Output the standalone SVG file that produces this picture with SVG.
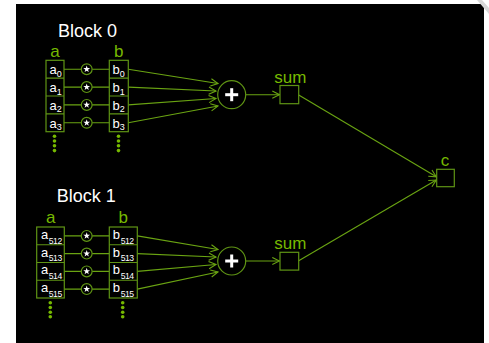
<svg xmlns="http://www.w3.org/2000/svg" width="489" height="343" viewBox="0 0 489 343">
  <defs>
    <style>
      .title { font-family: "Liberation Sans", Arial, sans-serif; font-size: 18px; fill: #ffffff; text-anchor: middle; }
      .lbl { font-family: "Liberation Sans", Arial, sans-serif; font-size: 17px; fill: #76b900; text-anchor: middle; }
      .cell { font-family: "Liberation Sans", Arial, sans-serif; font-size: 13px; fill: #ffffff; }
      .sub { font-size: 9px; }
      .sub3 { font-size: 8.6px; letter-spacing: -0.5px; }
      .box { fill: none; stroke: #5f9414; stroke-width: 1.2; }
      .op { fill: #000000; stroke: #5f9414; stroke-width: 1.2; }
      .wire { fill: none; stroke: #6aa412; stroke-width: 1.1; }
      .dot { fill: #76b900; }
      .glyph { fill: #ffffff; }
    </style>
    <marker id="arr" viewBox="0 0 10 10" refX="9" refY="5" markerWidth="9" markerHeight="9" markerUnits="userSpaceOnUse" orient="auto">
      <path d="M1,1 L9,5 L1,9" fill="none" stroke="#6aa412" stroke-width="1.2"/>
    </marker>
    <!-- multiply operator: small ring with a white star -->
    <g id="mul">
      <circle r="5.4" class="op"/>
      <polygon class="glyph" points="0,-3.6 0.85,-1.15 3.4,-1.1 1.35,0.45 2.1,2.9 0,1.45 -2.1,2.9 -1.35,0.45 -3.4,-1.1 -0.85,-1.15"/>
    </g>
    <!-- add operator: ring with a white plus -->
    <g id="add">
      <circle r="14" class="op"/>
      <rect x="-6.5" y="-1.5" width="13" height="3" class="glyph"/>
      <rect x="-1.5" y="-6.5" width="3" height="13" class="glyph"/>
    </g>
  </defs>

  <rect x="0" y="0" width="489" height="343" fill="#ffffff"/>
  <rect x="16" y="4" width="468" height="339" fill="#000000"/>
  <polygon points="477,0 482,0 489,8 489,14" fill="#d8d8d8"/>

  <!-- connectors -->
  <g id="connectors">
    <!-- block 0: a -> * -> b -->
    <path class="wire" d="M64,69.2 H81.3 M92.1,69.2 H109.3 M64,87.1 H81.3 M92.1,87.1 H109.3 M64,104.9 H81.3 M92.1,104.9 H109.3 M64,122.8 H81.3 M92.1,122.8 H109.3"/>
    <!-- block 0: products -> + -->
    <line class="wire" x1="128.3" y1="69.2" x2="218" y2="83.5" marker-end="url(#arr)"/>
    <line class="wire" x1="128.3" y1="87.1" x2="216" y2="91" marker-end="url(#arr)"/>
    <line class="wire" x1="128.3" y1="104.9" x2="216" y2="98.5" marker-end="url(#arr)"/>
    <line class="wire" x1="128.3" y1="122.8" x2="218" y2="106" marker-end="url(#arr)"/>
    <line class="wire" x1="245.7" y1="94.7" x2="279.5" y2="94.7" marker-end="url(#arr)"/>

    <!-- block 1: a -> * -> b -->
    <path class="wire" d="M64.3,235.9 H81.3 M92.1,235.9 H109.3 M64.3,253.6 H81.3 M92.1,253.6 H109.3 M64.3,271.4 H81.3 M92.1,271.4 H109.3 M64.3,289.1 H81.3 M92.1,289.1 H109.3"/>
    <!-- block 1: products -> + -->
    <line class="wire" x1="137.3" y1="235.9" x2="218" y2="249.5" marker-end="url(#arr)"/>
    <line class="wire" x1="137.3" y1="253.6" x2="216" y2="257" marker-end="url(#arr)"/>
    <line class="wire" x1="137.3" y1="271.4" x2="216" y2="264.5" marker-end="url(#arr)"/>
    <line class="wire" x1="137.3" y1="289.1" x2="218" y2="272" marker-end="url(#arr)"/>
    <line class="wire" x1="245.7" y1="261" x2="279.5" y2="261" marker-end="url(#arr)"/>

    <!-- partial sums -> c -->
    <line class="wire" x1="298.7" y1="95" x2="436.3" y2="176.8" marker-end="url(#arr)"/>
    <line class="wire" x1="298.7" y1="260.7" x2="436.3" y2="180" marker-end="url(#arr)"/>
  </g>

  <!-- block 0 -->
  <g id="block0-title"><text class="title" x="87.5" y="37.3">Block 0</text></g>
  <g id="block0-a">
    <text class="lbl" x="55" y="56.7">a</text>
    <rect class="box" x="46" y="60.3" width="18" height="71.4"/>
    <path class="box" d="M46,78.15 H64 M46,96 H64 M46,113.85 H64"/>
    <text class="cell" x="49.6" y="74.3">a<tspan class="sub" dy="2.4">0</tspan></text>
    <text class="cell" x="49.6" y="92.2">a<tspan class="sub" dy="2.4">1</tspan></text>
    <text class="cell" x="49.6" y="110">a<tspan class="sub" dy="2.4">2</tspan></text>
    <text class="cell" x="49.6" y="127.9">a<tspan class="sub" dy="2.4">3</tspan></text>
    <circle class="dot" cx="54.5" cy="136.2" r="1.8"/>
    <circle class="dot" cx="54.5" cy="141" r="1.8"/>
    <circle class="dot" cx="54.5" cy="145.8" r="1.8"/>
    <circle class="dot" cx="54.5" cy="150.6" r="1.8"/>
  </g>
  <g id="block0-mul">
    <use href="#mul" x="86.7" y="69.2"/>
    <use href="#mul" x="86.7" y="87.1"/>
    <use href="#mul" x="86.7" y="104.9"/>
    <use href="#mul" x="86.7" y="122.8"/>
  </g>
  <g id="block0-b">
    <text class="lbl" x="118.8" y="56.7">b</text>
    <rect class="box" x="109.3" y="60.3" width="19" height="71.4"/>
    <path class="box" d="M109.3,78.15 H128.3 M109.3,96 H128.3 M109.3,113.85 H128.3"/>
    <text class="cell" x="112.5" y="74.3">b<tspan class="sub" dy="2.4">0</tspan></text>
    <text class="cell" x="112.5" y="92.2">b<tspan class="sub" dy="2.4">1</tspan></text>
    <text class="cell" x="112.5" y="110">b<tspan class="sub" dy="2.4">2</tspan></text>
    <text class="cell" x="112.5" y="127.9">b<tspan class="sub" dy="2.4">3</tspan></text>
    <circle class="dot" cx="118.5" cy="136.2" r="1.8"/>
    <circle class="dot" cx="118.5" cy="141" r="1.8"/>
    <circle class="dot" cx="118.5" cy="145.8" r="1.8"/>
    <circle class="dot" cx="118.5" cy="150.6" r="1.8"/>
  </g>
  <g id="block0-add"><use href="#add" x="231.7" y="94.7"/></g>
  <g id="block0-sum">
    <text class="lbl" x="290.3" y="82.7">sum</text>
    <rect class="box" x="280" y="85.5" width="18.7" height="18.2"/>
  </g>

  <!-- block 1 -->
  <g id="block1-title"><text class="title" x="86.2" y="202.3">Block 1</text></g>
  <g id="block1-a">
    <text class="lbl" x="50.8" y="223.3">a</text>
    <rect class="box" x="36.7" y="227" width="27.6" height="71"/>
    <path class="box" d="M36.7,244.75 H64.3 M36.7,262.5 H64.3 M36.7,280.25 H64.3"/>
    <text class="cell" x="41" y="238.8">a<tspan class="sub3" dx="0.6" dy="4.8">512</tspan></text>
    <text class="cell" x="41" y="256.5">a<tspan class="sub3" dx="0.6" dy="4.8">513</tspan></text>
    <text class="cell" x="41" y="274.3">a<tspan class="sub3" dx="0.6" dy="4.8">514</tspan></text>
    <text class="cell" x="41" y="292">a<tspan class="sub3" dx="0.6" dy="4.8">515</tspan></text>
    <circle class="dot" cx="50.3" cy="302.7" r="1.8"/>
    <circle class="dot" cx="50.3" cy="307.5" r="1.8"/>
    <circle class="dot" cx="50.3" cy="312.2" r="1.8"/>
    <circle class="dot" cx="50.3" cy="316.8" r="1.8"/>
  </g>
  <g id="block1-mul">
    <use href="#mul" x="86.7" y="235.9"/>
    <use href="#mul" x="86.7" y="253.6"/>
    <use href="#mul" x="86.7" y="271.4"/>
    <use href="#mul" x="86.7" y="289.1"/>
  </g>
  <g id="block1-b">
    <text class="lbl" x="123.2" y="223.3">b</text>
    <rect class="box" x="109.3" y="227" width="28" height="71"/>
    <path class="box" d="M109.3,244.75 H137.3 M109.3,262.5 H137.3 M109.3,280.25 H137.3"/>
    <text class="cell" x="112.7" y="238.8">b<tspan class="sub3" dx="0.8" dy="4.8">512</tspan></text>
    <text class="cell" x="112.7" y="256.5">b<tspan class="sub3" dx="0.8" dy="4.8">513</tspan></text>
    <text class="cell" x="112.7" y="274.3">b<tspan class="sub3" dx="0.8" dy="4.8">514</tspan></text>
    <text class="cell" x="112.7" y="292">b<tspan class="sub3" dx="0.8" dy="4.8">515</tspan></text>
    <circle class="dot" cx="122.7" cy="302.7" r="1.8"/>
    <circle class="dot" cx="122.7" cy="307.5" r="1.8"/>
    <circle class="dot" cx="122.7" cy="312.2" r="1.8"/>
    <circle class="dot" cx="122.7" cy="316.8" r="1.8"/>
  </g>
  <g id="block1-add"><use href="#add" x="231.7" y="261"/></g>
  <g id="block1-sum">
    <text class="lbl" x="290.3" y="249.3">sum</text>
    <rect class="box" x="280" y="252.3" width="18.7" height="17.8"/>
  </g>

  <!-- result -->
  <g id="result-c">
    <text class="lbl" x="445" y="166">c</text>
    <rect class="box" x="436.7" y="169.3" width="17.6" height="17.4"/>
  </g>
</svg>
